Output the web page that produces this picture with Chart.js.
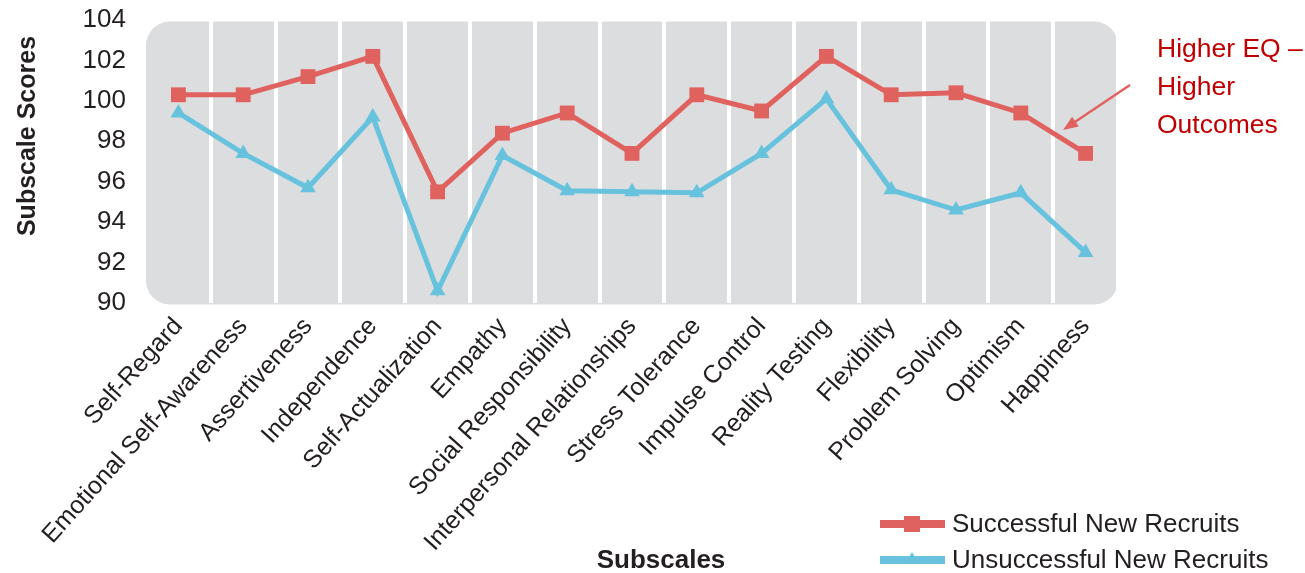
<!DOCTYPE html>
<html>
<head>
<meta charset="utf-8">
<script src="https://cdn.jsdelivr.net/npm/chart.js@4/dist/chart.umd.min.js"></script>
<style>
  html, body { margin: 0; padding: 0; background: #ffffff; }
  #wrap { width: 1305px; height: 573px; position: relative; }
</style>
</head>
<body>
<div id="wrap"><canvas id="eqChart"></canvas></div>
<script>
// EQ-i subscales on the x axis
const subscales = [
  'Self-Regard', 'Emotional Self-Awareness', 'Assertiveness', 'Independence',
  'Self-Actualization', 'Empathy', 'Social Responsibility',
  'Interpersonal Relationships', 'Stress Tolerance', 'Impulse Control',
  'Reality Testing', 'Flexibility', 'Problem Solving', 'Optimism', 'Happiness'
];

// Mean subscale scores per group
const successfulScores   = [100.3, 100.3, 101.2, 102.2, 95.5, 98.4, 99.4, 97.4, 100.3, 99.5, 102.2, 100.3, 100.4, 99.4, 97.4];
const unsuccessfulScores = [99.4, 97.4, 95.7, 99.2, 90.6, 97.3, 95.55, 95.5, 95.45, 97.4, 100.1, 95.6, 94.6, 95.45, 92.5];

const seriesNames = ['Successful New Recruits', 'Unsuccessful New Recruits'];

// Score axis range
const scoreMin = 90;
const scoreMax = 104;
const scoreStep = 2;

const axisTitles = { x: 'Subscales', y: 'Subscale Scores' };
const calloutLines = ['Higher EQ \u2013', 'Higher', 'Outcomes'];

const FONT = "'Liberation Sans', Arial, Helvetica, sans-serif";
const INK = '#231F20';
const RED = '#E0625F';
const BLUE = '#66C2DD';
const PANEL = '#DCDDDF';

// Rounded grey panel behind the plot
const panelPlugin = {
  id: 'panel',
  beforeDraw(chart) {
    const { ctx, chartArea: a } = chart;
    ctx.save();
    ctx.fillStyle = PANEL;
    ctx.beginPath();
    ctx.roundRect(a.left, a.top + 1.5, a.right - a.left, a.bottom - a.top, 24);
    ctx.fill();
    ctx.restore();
  }
};

// Axis titles, legend and the callout arrow
const decorPlugin = {
  id: 'decor',
  afterDraw(chart) {
    const { ctx } = chart;
    ctx.save();

    // y axis title
    ctx.fillStyle = INK;
    ctx.font = `bold 25px ${FONT}`;
    ctx.textAlign = 'center';
    ctx.textBaseline = 'middle';
    ctx.save();
    ctx.translate(28, 136);
    ctx.rotate(-Math.PI / 2);
    ctx.fillText(axisTitles.y, 0, 0);
    ctx.restore();

    // x axis title
    ctx.font = `bold 26px ${FONT}`;
    ctx.fillText(axisTitles.x, 661, 561);

    // legend
    const rows = [524, 560];
    chart.data.datasets.forEach((ds, i) => {
      const y = rows[i];
      ctx.strokeStyle = ds.borderColor;
      ctx.lineWidth = 8;
      ctx.beginPath();
      ctx.moveTo(880, y);
      ctx.lineTo(945, y);
      ctx.stroke();
      ctx.fillStyle = ds.borderColor;
      if (ds.pointStyle === 'rect') {
        ctx.fillRect(904, y - 8, 16, 16);
      } else {
        ctx.beginPath();
        ctx.moveTo(912, y - 8);
        ctx.lineTo(919, y + 4);
        ctx.lineTo(905, y + 4);
        ctx.closePath();
        ctx.fill();
      }
      ctx.fillStyle = INK;
      ctx.font = `26px ${FONT}`;
      ctx.textAlign = 'left';
      ctx.textBaseline = 'middle';
      ctx.fillText(ds.label, 952, y + 1);
    });

    // callout text
    ctx.fillStyle = '#C00000';
    ctx.font = `26.5px ${FONT}`;
    ctx.textAlign = 'left';
    ctx.textBaseline = 'middle';
    calloutLines.forEach((t, i) => ctx.fillText(t, 1157, 50 + i * 38));

    // callout arrow
    const x0 = 1130, y0 = 85, x1 = 1063, y1 = 130;
    const ang = Math.atan2(y1 - y0, x1 - x0);
    ctx.strokeStyle = RED;
    ctx.fillStyle = RED;
    ctx.lineWidth = 2.5;
    ctx.beginPath();
    ctx.moveTo(x0, y0);
    ctx.lineTo(x1 - 8 * Math.cos(ang), y1 - 8 * Math.sin(ang));
    ctx.stroke();
    ctx.beginPath();
    ctx.moveTo(x1, y1);
    ctx.lineTo(x1 - 15 * Math.cos(ang) + 6 * Math.sin(ang), y1 - 15 * Math.sin(ang) - 6 * Math.cos(ang));
    ctx.lineTo(x1 - 15 * Math.cos(ang) - 6 * Math.sin(ang), y1 - 15 * Math.sin(ang) + 6 * Math.cos(ang));
    ctx.closePath();
    ctx.fill();

    ctx.restore();
  }
};

new Chart(document.getElementById('eqChart'), {
  type: 'line',
  data: {
    labels: subscales,
    datasets: [
      {
        label: seriesNames[0],
        data: successfulScores,
        borderColor: RED,
        backgroundColor: RED,
        borderWidth: 5,
        pointStyle: 'rect',
        pointRadius: 10.5,
        pointHoverRadius: 10.5,
        pointBorderWidth: 0,
        tension: 0,
        clip: false
      },
      {
        label: seriesNames[1],
        data: unsuccessfulScores,
        borderColor: BLUE,
        backgroundColor: BLUE,
        borderWidth: 5,
        pointStyle: 'triangle',
        pointRadius: 9,
        pointHoverRadius: 9,
        pointBorderWidth: 0,
        tension: 0,
        clip: false
      }
    ]
  },
  options: {
    responsive: true,
    maintainAspectRatio: false,
    animation: false,
    events: [],
    layout: { padding: { top: 20, right: 187, bottom: 0, left: 0 } },
    plugins: {
      legend: { display: false },
      tooltip: { enabled: false }
    },
    scales: {
      x: {
        type: 'category',
        offset: true,
        grid: {
          offset: true,
          drawTicks: false,
          lineWidth: 4,
          color: (c) => (c.index === 0 || c.index === subscales.length) ? 'rgba(0,0,0,0)' : '#ffffff'
        },
        border: { display: false },
        ticks: {
          autoSkip: false,
          maxRotation: 48,
          minRotation: 48,
          padding: 9,
          color: INK,
          font: { family: FONT, size: 25 }
        },
        afterFit(scale) { scale.height = 270; }
      },
      y: {
        min: scoreMin,
        max: scoreMax,
        grid: {
          display: true,
          drawOnChartArea: false,
          drawTicks: true,
          tickLength: 20,
          color: 'rgba(0,0,0,0)'
        },
        border: { display: false },
        ticks: {
          stepSize: scoreStep,
          autoSkip: false,
          padding: 0,
          color: INK,
          font: { family: FONT, size: 26 }
        },
        afterFit(scale) { scale.width = 146; }
      }
    }
  },
  plugins: [panelPlugin, decorPlugin]
});
</script>
</body>
</html>
